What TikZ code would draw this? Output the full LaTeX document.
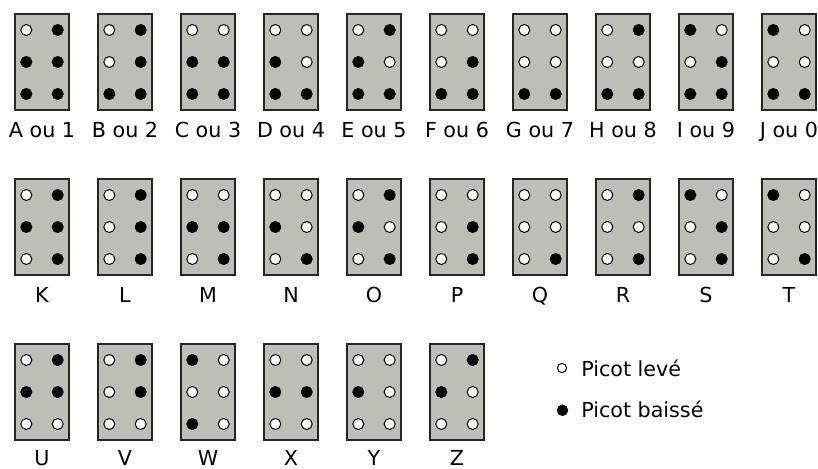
\documentclass[tikz,border=0pt]{standalone}
\usepackage{fontspec}
\setmainfont{DejaVu Sans}
\definecolor{cellgray}{RGB}{189,190,183}

\tikzset{
  cell/.style={draw=black!85, fill=cellgray, line width=0.9pt, minimum width=40.5pt, minimum height=72pt, inner sep=0pt},
  lev/.style={draw=black, fill=white, line width=0.75pt},
  bas/.style={draw=black, fill=black, line width=0.75pt},
  lettre/.style={anchor=base, inner sep=0pt, font=\fontsize{15.5}{18}\selectfont},
  legende/.style={anchor=base west, inner sep=0pt, font=\fontsize{15.5}{18}\selectfont}
}

\begin{document}
\begin{tikzpicture}[x=0.75pt,y=0.75pt,yscale=-1,xscale=1]
\useasboundingbox (0,0) rectangle (818,468);

% Braille cells: name / x / y / label / dots 1..6
\foreach \n/\x/\y/\t/\p in {
  A/42/62/{A ou 1}/{lev,bas,bas,bas,bas,bas},
  B/125/62/{B ou 2}/{lev,lev,bas,bas,bas,bas},
  C/208/62/{C ou 3}/{lev,bas,bas,lev,bas,bas},
  D/291/62/{D ou 4}/{lev,bas,bas,lev,lev,bas},
  E/374/62/{E ou 5}/{lev,bas,bas,bas,lev,bas},
  F/457/62/{F ou 6}/{lev,lev,bas,lev,bas,bas},
  G/540/62/{G ou 7}/{lev,lev,bas,lev,lev,bas},
  H/623/62/{H ou 8}/{lev,lev,bas,bas,lev,bas},
  I/706/62/{I ou 9}/{bas,lev,bas,lev,bas,bas},
  J/789/62/{J ou 0}/{bas,lev,bas,lev,lev,bas},
  K/42/227/K/{lev,bas,lev,bas,bas,bas},
  L/125/227/L/{lev,lev,lev,bas,bas,bas},
  M/208/227/M/{lev,bas,lev,lev,bas,bas},
  N/291/227/N/{lev,bas,lev,lev,lev,bas},
  O/374/227/O/{lev,bas,lev,bas,lev,bas},
  P/457/227/P/{lev,lev,lev,lev,bas,bas},
  Q/540/227/Q/{lev,lev,lev,lev,lev,bas},
  R/623/227/R/{lev,lev,lev,bas,lev,bas},
  S/706/227/S/{bas,lev,lev,lev,bas,bas},
  T/789/227/T/{bas,lev,lev,lev,lev,bas},
  U/42/392/U/{lev,bas,lev,bas,bas,lev},
  V/125/392/V/{lev,lev,lev,bas,bas,lev},
  W/208/392/W/{bas,lev,bas,lev,lev,lev},
  X/291/392/X/{lev,bas,lev,lev,bas,lev},
  Y/374/392/Y/{lev,bas,lev,lev,lev,lev},
  Z/457/392/Z/{lev,bas,lev,bas,lev,lev}} {
  % Cell
  \draw (\x,\y) node [cell] (cell\n) {};
  % Dots
  \foreach \s [count=\k from 0] in \p {
    \pgfmathsetmacro\dx{\x+(2*int(\k/3)-1)*15.7}
    \pgfmathsetmacro\dy{\y+(mod(\k,3)-1)*32}
    \draw [\s] (\dx,\dy) circle (5.5);
  }
  % Text Node
  \pgfmathsetmacro\ly{\y+75.5-(\y>300)*2}
  \draw (\x,\ly) node [lettre] (lbl\n) {\t};
}

% Legend
\draw [lev] (562,368) circle (4.6);
\draw (581,376) node [legende] (leve) {Picot levé};
\draw [bas] (562.5,410.3) circle (5.2);
\draw (581,417) node [legende] (baisse) {Picot baissé};

\end{tikzpicture}
\end{document}
